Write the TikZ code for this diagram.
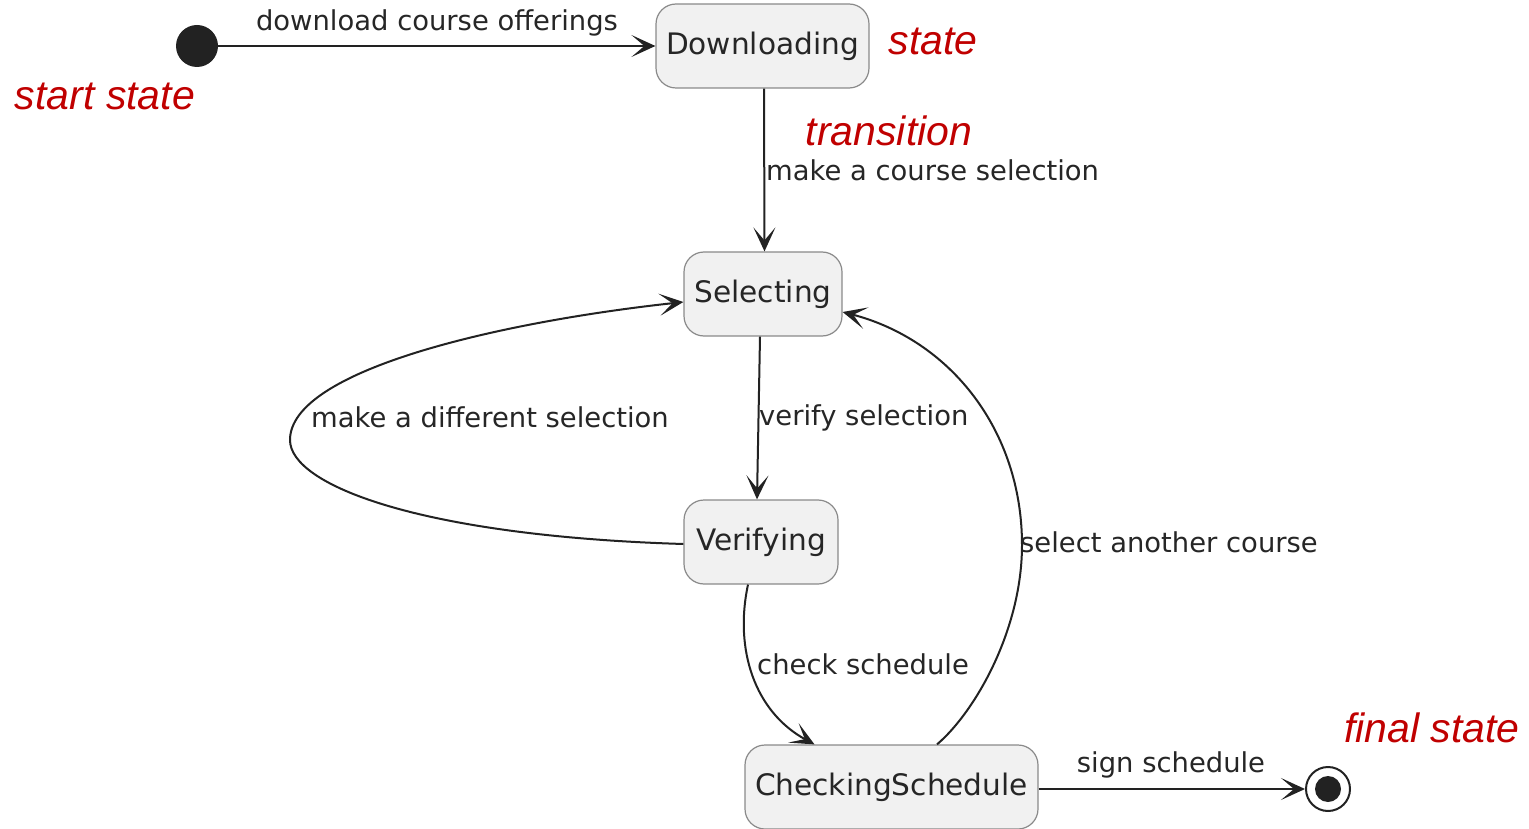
\documentclass[tikz,border=0pt]{standalone}
\usepackage{fontspec}
\setmainfont{DejaVu Sans}
\newfontfamily\annfont{Liberation Sans}
\usetikzlibrary{arrows.meta}
\definecolor{annred}{HTML}{C00000}
\definecolor{linec}{HTML}{222222}
\definecolor{boxfill}{HTML}{F1F1F1}
\definecolor{boxdraw}{HTML}{8A8A8A}
\begin{document}
\begin{tikzpicture}[x=1pt,y=-1pt,
  statebox/.style={draw=boxdraw,line width=1.2pt,fill=boxfill,rounded corners=20pt,minimum height=84pt,inner sep=0pt,font=\fontsize{29.6}{34}\selectfont,text=black!85},
  trans/.style={draw=linec,line width=2pt,-{Stealth[length=24pt,width=22pt,inset=13pt]}},
  lbl/.style={font=\fontsize{27.4}{31}\selectfont,text=black!85,inner sep=0pt},
  ann/.style={font=\annfont\itshape\fontsize{41}{45}\selectfont,text=annred,inner sep=0pt}]
\useasboundingbox (0,0) rectangle (1529,829);
% states
\node[circle,fill=linec,minimum size=42pt,inner sep=0pt] (start) at (197,46) {};
\node[statebox,minimum width=213pt] (dl) at (762.5,46) {Downloading};
\node[statebox,minimum width=158pt] (sel) at (763,294) {Selecting};
\node[statebox,minimum width=154pt] (ver) at (761,542) {Verifying};
\node[statebox,minimum width=293pt] (chk) at (891.5,787) {CheckingSchedule};
\node[circle,draw=linec,line width=2pt,minimum size=44pt,inner sep=0pt] (fin) at (1328,789) {};
\node[circle,fill=linec,minimum size=26pt,inner sep=0pt] (finin) at (fin.center) {};
% transitions
\draw[trans] (start.east) -- (dl.west);
\draw[trans] ([xshift=1.5pt]dl.south) -- ([xshift=1.5pt]sel.north);
\draw[trans] ([xshift=-3pt]sel.south) -- ([xshift=-4pt]ver.north);
\draw[trans] ([yshift=-2pt]ver.west) .. controls (420,536) and (290,485) .. (290,440)
  .. controls (290,370) and (500,322) .. ([yshift=-8pt]sel.west);
\draw[trans] ([xshift=-13pt]ver.south) .. controls (734,650) and (755,712) .. ([xshift=-77pt]chk.north);
\draw[trans] ([xshift=45.5pt]chk.north) .. controls (975,712) and (1022,630) .. (1022,545)
  .. controls (1022,430) and (950,340) .. ([yshift=-18pt]sel.east);
\draw[trans] ([yshift=-2pt]chk.east) -- (fin.west);
% labels
\node[lbl] (l1) at (437,23) {download course offerings};
\node[lbl,anchor=west] (l2) at (766,170) {make a course selection};
\node[lbl,anchor=west] (l3) at (759,418) {verify selection};
\node[lbl] (l4) at (490,417) {make a different selection};
\node[lbl,anchor=west] (l5) at (757,664) {check schedule};
\node[lbl,anchor=west] (l6) at (1020,542) {select another course};
\node[lbl] (l7) at (1171,765) {sign schedule};
% annotations
\node[ann] (a1) at (105,96) {start state};
\node[ann] (a2) at (933,41) {state};
\node[ann] (a3) at (889,131) {transition};
\node[ann] (a4) at (1432,728) {final state};
\end{tikzpicture}
\end{document}
